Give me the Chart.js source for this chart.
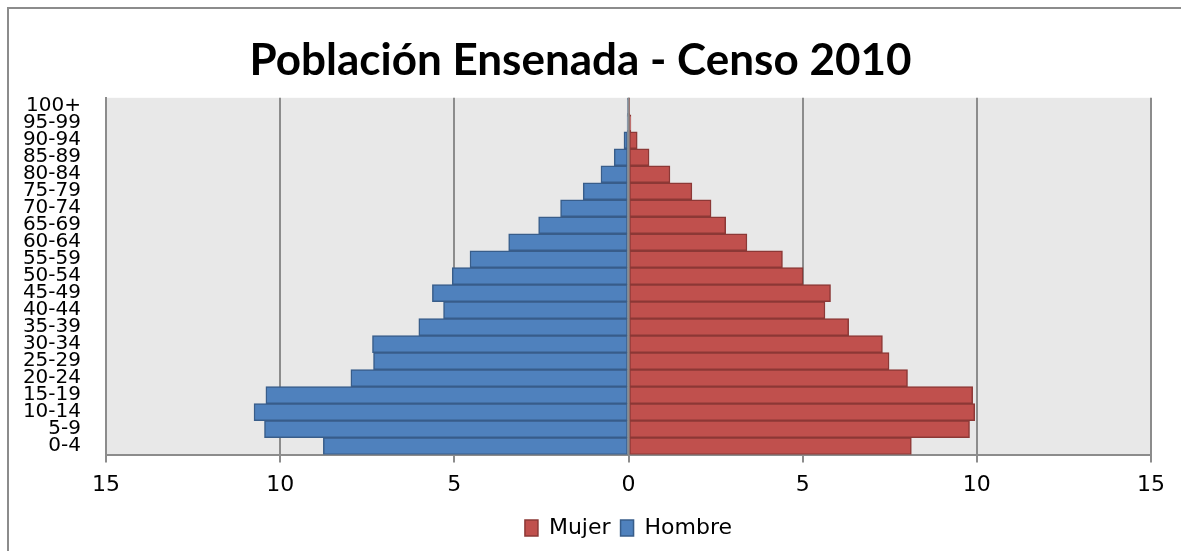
<!DOCTYPE html>
<html>
<head>
<meta charset="utf-8">
<script src="https://cdn.jsdelivr.net/npm/chart.js@4.4.0/dist/chart.umd.min.js"></script>
<style>
  html, body { margin: 0; padding: 0; background: #fff; }
  #wrap { position: relative; width: 1181px; height: 551px; }
  #frame {
    position: absolute; left: 7px; top: 7px; width: 1200px; height: 600px;
    border-left: 2px solid #8c8c8c; border-top: 2px solid #8c8c8c;
    pointer-events: none;
  }
</style>
</head>
<body>
<div id="wrap">
  <canvas id="pyramid" width="1181" height="551"></canvas>
  <div id="frame"></div>
</div>
<script>
// age groups, top to bottom
const ageGroups = ['100+', '95-99', '90-94', '85-89', '80-84', '75-79', '70-74', '65-69',
  '60-64', '55-59', '50-54', '45-49', '40-44', '35-39', '30-34', '25-29', '20-24',
  '15-19', '10-14', '5-9', '0-4'];

// percent of population
const mujer = [0.01, 0.07, 0.25, 0.59, 1.19, 1.82, 2.37, 2.79, 3.40, 4.42, 5.01, 5.80,
  5.64, 6.32, 7.29, 7.48, 8.01, 9.88, 9.94, 9.79, 8.12];
const hombre = [0.01, 0.04, 0.13, 0.41, 0.79, 1.30, 1.95, 2.58, 3.44, 4.55, 5.06, 5.63,
  5.31, 6.02, 7.35, 7.32, 7.97, 10.41, 10.75, 10.45, 8.76];

const xTicks = [-15, -10, -5, 0, 5, 10, 15];

// gray plot background, under the grid lines
const plotBg = {
  id: 'plotBg',
  beforeDraw(chart) {
    const { ctx, chartArea } = chart;
    ctx.save();
    ctx.fillStyle = '#e8e8e8';
    ctx.fillRect(chartArea.left, chartArea.top, chartArea.width, chartArea.height);
    ctx.restore();
  }
};

// vertical axis line at zero, over the bars
const zeroLine = {
  id: 'zeroLine',
  afterDatasetsDraw(chart) {
    const { ctx, chartArea, scales } = chart;
    const x = scales.x.getPixelForValue(0);
    ctx.save();
    ctx.strokeStyle = '#8c8c8c';
    ctx.lineWidth = 2;
    ctx.beginPath();
    ctx.moveTo(x, chartArea.top);
    ctx.lineTo(x, chartArea.bottom);
    ctx.stroke();
    ctx.restore();
  }
};

const ctx = document.getElementById('pyramid');
new Chart(ctx, {
  type: 'bar',
  data: {
    labels: ageGroups,
    datasets: [
      {
        label: 'Mujer',
        data: mujer,
        backgroundColor: '#c0504d',
        borderColor: '#8c3836',
        borderWidth: 1.5,
        borderSkipped: false
      },
      {
        label: 'Hombre',
        data: hombre.map(v => -v),
        backgroundColor: '#4f81bd',
        borderColor: '#385d8a',
        borderWidth: 1.5,
        borderSkipped: false
      }
    ]
  },
  options: {
    indexAxis: 'y',
    responsive: false,
    animation: false,
    barPercentage: 1,
    categoryPercentage: 1,
    layout: { padding: { left: 10, right: 30, top: 0, bottom: 2 } },
    plugins: {
      title: {
        display: true,
        text: 'Población Ensenada - Censo 2010',
        color: '#000',
        font: { family: 'Lato', size: 44, weight: 'bold' },
        padding: { top: 34, bottom: 11 }
      },
      legend: {
        position: 'bottom',
        fullSize: false,
        labels: {
          color: '#000',
          font: { family: 'DejaVu Sans', size: 22 },
          boxWidth: 13,
          boxHeight: 16,
          padding: 10
        }
      },
      tooltip: { enabled: false }
    },
    scales: {
      x: {
        stacked: true,
        min: -15,
        max: 15,
        afterBuildTicks: scale => { scale.ticks = xTicks.map(v => ({ value: v })); },
        grid: { color: '#8c8c8c', lineWidth: 2, tickLength: 8, drawTicks: true },
        border: { color: '#8c8c8c', width: 2 },
        ticks: {
          color: '#000',
          font: { family: 'DejaVu Sans', size: 22 },
          padding: 9,
          callback: v => Math.abs(v)
        }
      },
      y: {
        stacked: true,
        afterFit: scale => { scale.width = 96; },
        grid: { display: false },
        border: { color: '#8c8c8c', width: 2 },
        ticks: {
          color: '#000',
          autoSkip: false,
          font: { family: 'DejaVu Sans', size: 20 },
          padding: 17
        }
      }
    }
  },
  plugins: [plotBg, zeroLine]
});
</script>
</body>
</html>
